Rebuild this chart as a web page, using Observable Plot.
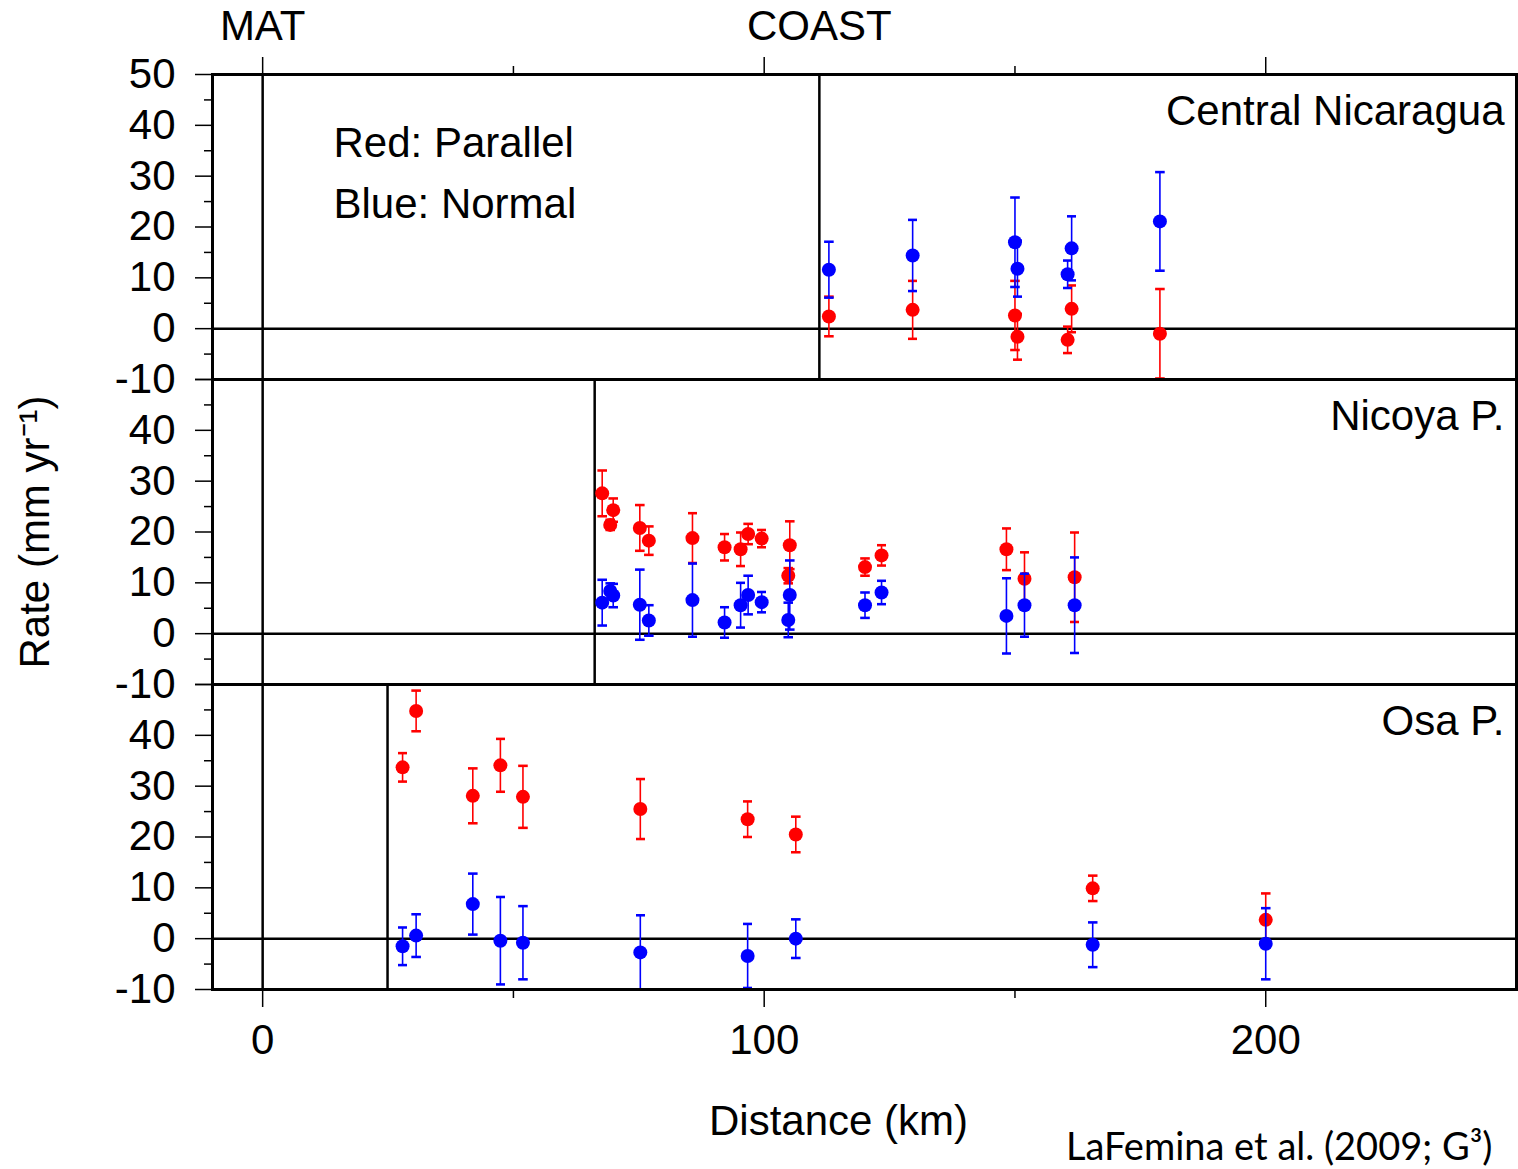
<!DOCTYPE html>
<html>
<head>
<meta charset="utf-8">
<script src="https://cdn.jsdelivr.net/npm/d3@7"></script>
<script src="https://cdn.jsdelivr.net/npm/@observablehq/plot@0.6"></script>
<style>
  html, body { margin: 0; padding: 0; background: #fff; }
  #chart { width: 1518px; height: 1169px; }
</style>
</head>
<body>
<div id="chart"></div>
<script>
// ---- Data ----
const regions = ["Central Nicaragua", "Nicoya P.", "Osa P."];
const coastKm = [111, 66.2, 24.9];           // COAST line per panel
const matKm = [0];                           // MAT line
const topLabels = ["MAT", "COAST"];
const legendLabels = ["Red: Parallel", "Blue: Normal"];
const yTicks = [-10, 0, 10, 20, 30, 40, 50];
const yMinorTicks = [-5, 5, 15, 25, 35, 45];
const xTicks = [0, 100, 200];
const xMinorTicks = [50, 150];

// Central Nicaragua
const nicDist    = [112.9, 129.6, 150.0, 150.5, 161.3, 160.5, 178.9];
const nicPar     = [2.4, 3.7, 2.6, -1.6, 3.9, -2.2, -1.0];
const nicParErr  = [3.9, 5.7, 6.8, 4.5, 4.6, 2.6, 8.8];
const nicNorm    = [11.6, 14.4, 17.0, 11.8, 15.8, 10.7, 21.1];
const nicNormErr = [5.5, 7.0, 8.8, 5.5, 6.3, 2.7, 9.7];

// Nicoya P.
const nicoDist    = [67.7, 69.3, 69.9, 75.2, 77.0, 85.7, 92.1, 95.3, 96.8, 99.5, 104.8, 105.1, 120.1, 123.4, 148.3, 151.9, 161.9];
const nicoPar     = [27.6, 21.4, 24.3, 20.8, 18.3, 18.8, 17.0, 16.6, 19.6, 18.7, 11.4, 17.4, 13.1, 15.4, 16.6, 10.8, 11.1];
const nicoParErr  = [4.5, 1.0, 2.3, 4.5, 2.8, 4.9, 2.6, 3.3, 2.0, 1.7, 1.5, 4.7, 1.7, 2.0, 4.1, 5.2, 8.8];
const nicoNorm    = [6.1, 8.4, 7.5, 5.7, 2.6, 6.6, 2.2, 5.6, 7.6, 6.2, 2.7, 7.6, 5.6, 8.1, 3.5, 5.6, 5.6];
const nicoNormErr = [4.5, 1.5, 2.3, 6.9, 3.0, 7.2, 3.0, 4.4, 3.8, 2.0, 3.4, 6.8, 2.5, 2.3, 7.4, 6.2, 9.4];

// Osa P.
const osaDist    = [27.9, 30.6, 41.9, 47.4, 51.9, 75.3, 96.7, 106.3, 165.5, 200.0];
const osaPar     = [33.7, 44.8, 28.1, 34.1, 27.9, 25.5, 23.5, 20.5, 9.9, 3.7];
const osaParErr  = [2.8, 4.0, 5.4, 5.2, 6.1, 5.9, 3.5, 3.5, 2.5, 5.2];
const osaNorm    = [-1.5, 0.6, 6.8, -0.4, -0.8, -2.7, -3.4, 0.0, -1.2, -1.0];
const osaNormErr = [3.7, 4.2, 6.0, 8.6, 7.2, 7.3, 6.3, 3.8, 4.4, 7.0];

const components = ["Parallel", "Normal"];
const componentColors = ["#ff0000", "#0000ff"];

// ---- Build tables ----
function rowsFor(region, dist, vals, errs, comp) {
  return dist.map((d, i) => ({region, comp, d, v: vals[i], e: errs[i]}));
}
const parallelRows = [
  ...rowsFor(regions[0], nicDist, nicPar, nicParErr, "Parallel"),
  ...rowsFor(regions[1], nicoDist, nicoPar, nicoParErr, "Parallel"),
  ...rowsFor(regions[2], osaDist, osaPar, osaParErr, "Parallel")
];
const normalRows = [
  ...rowsFor(regions[0], nicDist, nicNorm, nicNormErr, "Normal"),
  ...rowsFor(regions[1], nicoDist, nicoNorm, nicoNormErr, "Normal"),
  ...rowsFor(regions[2], osaDist, osaNorm, osaNormErr, "Normal")
];
const coastRows = regions.map((r, i) => ({region: r, km: coastKm[i]}));
const topLabelRows = [
  {region: regions[0], km: matKm[0], label: topLabels[0]},
  {region: regions[0], km: coastKm[0], label: topLabels[1]}
];

const FONT = "'Liberation Sans', Arial, Helvetica, sans-serif";
const FS = 42;

function errorBars(rows) {
  return Plot.link(rows, {
    x1: "d", x2: "d",
    y1: d => d.v - d.e, y2: d => d.v + d.e,
    fy: "region", stroke: "comp", strokeWidth: 1.6,
    markerStart: "tick-x", markerEnd: "tick-x"
  });
}
function dots(rows) {
  return Plot.dot(rows, {x: "d", y: "v", fy: "region", fill: "comp", r: 7});
}

const chart = Plot.plot({
  width: 1518,
  height: 1169,
  marginLeft: 212,
  marginRight: 2,
  marginTop: 73,
  marginBottom: 180,
  style: {fontFamily: FONT, fontSize: FS + "px", color: "#000", background: "#fff"},
  x: {domain: [-10, 250], axis: null},
  y: {domain: [-10, 50], axis: null},
  fy: {domain: regions, axis: null, padding: 0},
  color: {domain: components, range: componentColors},
  marks: [
    // reference lines
    Plot.ruleY([0], {stroke: "#000", strokeWidth: 2.5}),
    Plot.ruleX(matKm, {stroke: "#000", strokeWidth: 2.5}),
    Plot.ruleX(coastRows, {x: "km", fy: "region", stroke: "#000", strokeWidth: 2.5}),
    // data
    errorBars(parallelRows),
    dots(parallelRows),
    errorBars(normalRows),
    dots(normalRows),
    // y axes
    Plot.axisY(yTicks, {
      anchor: "left", tickSize: 17, tickPadding: 20, strokeWidth: 1.5,
      tickFormat: d => (d === 50 ? "" : d), label: null, fontSize: FS
    }),
    Plot.axisY(yMinorTicks, {anchor: "left", tickSize: 8, strokeWidth: 1.5, tickFormat: () => "", label: null}),
    Plot.text([{region: regions[0], y: 50}], {
      fy: "region", y: "y", text: d => String(d.y), frameAnchor: "left",
      dx: -37, textAnchor: "end", lineAnchor: "middle", fontSize: FS
    }),
    // x axes (bottom and top)
    Plot.axisX(xTicks, {anchor: "bottom", tickSize: 18, tickPadding: 17, strokeWidth: 1.5, label: null, fontSize: FS}),
    Plot.axisX(xMinorTicks, {anchor: "bottom", tickSize: 9, strokeWidth: 1.5, tickFormat: () => "", label: null}),
    Plot.axisX(xTicks, {anchor: "top", tickSize: 18, strokeWidth: 1.5, tickFormat: () => "", label: null}),
    Plot.axisX(xMinorTicks, {anchor: "top", tickSize: 9, strokeWidth: 1.5, tickFormat: () => "", label: null}),
    // labels
    Plot.text(topLabelRows, {
      x: "km", fy: "region", text: "label", frameAnchor: "top",
      dy: -48, lineAnchor: "middle", fontSize: FS
    }),
    Plot.text(regions, {
      fy: d => d, text: d => d, frameAnchor: "top-right",
      dx: -12, dy: 37, textAnchor: "end", lineAnchor: "middle", fontSize: FS
    }),
    Plot.text(legendLabels.slice(0, 1), {
      fy: () => regions[0], text: d => d, frameAnchor: "top-left",
      dx: 121, dy: 69, textAnchor: "start", lineAnchor: "middle", fontSize: FS
    }),
    Plot.text(legendLabels.slice(1, 2), {
      fy: () => regions[0], text: d => d, frameAnchor: "top-left",
      dx: 121, dy: 130, textAnchor: "start", lineAnchor: "middle", fontSize: FS
    }),
    Plot.text(["Rate (mm yr⁻¹)"], {
      fy: () => regions[1], text: d => d, frameAnchor: "left",
      dx: -177, rotate: -90, textAnchor: "middle", lineAnchor: "middle", fontSize: FS
    }),
    Plot.text(["Distance (km)"], {
      fy: () => regions[2], text: d => d, frameAnchor: "bottom",
      dx: -26, dy: 132, textAnchor: "middle", lineAnchor: "middle", fontSize: FS
    }),
    Plot.text(["LaFemina et al. (2009; G³)"], {
      fy: () => regions[2], text: d => d, frameAnchor: "bottom-right",
      dx: -24, dy: 158, textAnchor: "end", lineAnchor: "middle", fontSize: 38,
      fontFamily: "Lato, 'Open Sans', sans-serif"
    }),
    Plot.frame({stroke: "#000", strokeWidth: 3})
  ]
});
document.getElementById("chart").appendChild(chart);
</script>
</body>
</html>
